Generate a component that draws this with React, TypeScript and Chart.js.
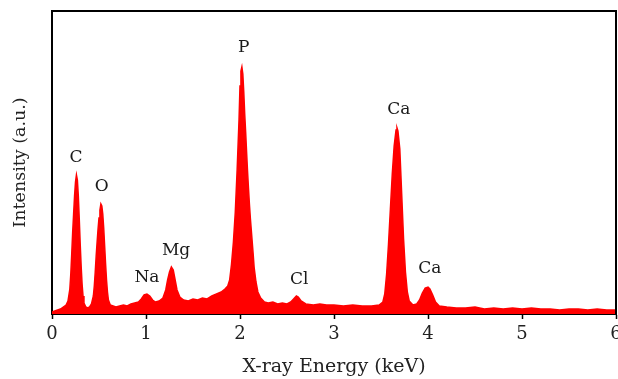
import React, { useEffect, useRef } from "react";
import { Chart, registerables } from "chart.js";

Chart.register(...registerables);

const energy = [
  0.0, 0.03, 0.06, 0.09, 0.12, 0.15, 0.17, 0.19, 0.2, 0.21, 0.22, 0.23, 0.24, 0.25, 0.26, 0.27, 0.28, 0.29, 0.3, 0.31,
  0.32, 0.33, 0.34, 0.36, 0.38, 0.4, 0.42, 0.44, 0.45, 0.46, 0.47, 0.48, 0.49, 0.5, 0.51, 0.52, 0.53, 0.54, 0.55, 0.56,
  0.57, 0.58, 0.59, 0.6, 0.62, 0.65, 0.68, 0.72, 0.76, 0.8, 0.84, 0.88, 0.92, 0.95, 0.98, 1.01, 1.04, 1.07, 1.1, 1.14,
  1.18, 1.21, 1.23, 1.25, 1.27, 1.29, 1.31, 1.33, 1.36, 1.4, 1.45, 1.5, 1.55, 1.6, 1.65, 1.7, 1.75, 1.8, 1.84, 1.87,
  1.89, 1.91, 1.93, 1.95, 1.97, 1.99, 2.0, 2.01, 2.02, 2.03, 2.04, 2.05, 2.06, 2.07, 2.08, 2.09, 2.1, 2.11, 2.12, 2.13,
  2.14, 2.15, 2.17, 2.19, 2.22, 2.26, 2.3, 2.35, 2.4, 2.45, 2.5, 2.54, 2.57, 2.6, 2.62, 2.65, 2.7, 2.78, 2.85, 2.92,
  3.0, 3.1, 3.2, 3.3, 3.4, 3.48, 3.52, 3.54, 3.56, 3.58, 3.6, 3.62, 3.64, 3.66, 3.67, 3.68, 3.7, 3.72, 3.74, 3.76,
  3.78, 3.8, 3.84, 3.88, 3.91, 3.94, 3.97, 4.0, 4.02, 4.05, 4.08, 4.12, 4.2, 4.3, 4.4, 4.5, 4.6, 4.7, 4.8, 4.9,
  5.0, 5.1, 5.2, 5.3, 5.4, 5.5, 5.6, 5.7, 5.8, 5.9, 6.0,
];

const intensity = [
  2, 3, 4, 5, 7, 9, 13, 25, 40, 60, 82, 100, 118, 132, 139, 134, 118, 95, 70, 48,
  30, 18, 11, 7, 6, 7, 10, 18, 28, 42, 58, 72, 85, 96, 104, 110, 108, 100, 86, 68,
  50, 34, 22, 14, 9, 8, 7, 8, 9, 8, 10, 11, 12, 15, 19, 20, 18, 14, 12, 13,
  16, 24, 34, 42, 47, 44, 34, 24, 17, 14, 13, 15, 14, 16, 15, 18, 20, 22, 25, 28,
  34, 50, 72, 102, 145, 195, 228, 243, 247, 240, 222, 200, 182, 162, 143, 126, 110, 96, 84, 72,
  60, 47, 32, 22, 16, 12, 11, 12, 10, 11, 10, 12, 15, 18, 17, 13, 10, 9, 10, 9,
  9, 8, 9, 8, 8, 9, 12, 20, 40, 70, 105, 140, 168, 184, 186, 183, 165, 120, 75, 42,
  22, 13, 9, 10, 14, 21, 26, 27, 25, 19, 12, 8, 7, 6, 6, 7, 5, 6, 5, 6,
  5, 6, 5, 5, 4, 5, 5, 4, 5, 4, 4,
];

const peakLabels = ["C", "O", "Na", "Mg", "P", "Cl", "Ca", "Ca"];
const peakLabelEnergy = [0.255, 0.53, 1.01, 1.32, 2.04, 2.63, 3.69, 4.02];
const peakLabelHeight = [156, 127, 36, 63, 266, 34, 204, 45];

const xTicks = [0, 1, 2, 3, 4, 5, 6];

const FONT = "'DejaVu Serif', 'Liberation Serif', serif";

export default function App() {
  const ref = useRef<HTMLCanvasElement | null>(null);

  useEffect(() => {
    document.body.style.margin = "0";
    const canvas = ref.current;
    if (!canvas) return;

    const framePlugin = {
      id: "frame",
      afterDatasetsDraw(chart: any) {
        const { ctx, chartArea } = chart;
        ctx.save();
        ctx.strokeStyle = "#000";
        ctx.lineWidth = 2;
        ctx.beginPath();
        ctx.moveTo(chartArea.left, chartArea.top);
        ctx.lineTo(chartArea.right, chartArea.top);
        ctx.lineTo(chartArea.right, chartArea.bottom);
        ctx.stroke();
        ctx.restore();
      },
    };

    const labelPlugin = {
      id: "peakLabels",
      afterDatasetsDraw(chart: any) {
        const { ctx } = chart;
        const xs = chart.scales.x;
        const ys = chart.scales.y;
        ctx.save();
        ctx.fillStyle = "#1a1a1a";
        ctx.font = `17px ${FONT}`;
        ctx.textAlign = "center";
        ctx.textBaseline = "middle";
        peakLabels.forEach((t, i) => {
          ctx.fillText(t, xs.getPixelForValue(peakLabelEnergy[i]), ys.getPixelForValue(peakLabelHeight[i]));
        });
        ctx.restore();
      },
    };

    const chart = new Chart(canvas, {
      type: "line",
      data: {
        datasets: [
          {
            data: energy.map((e, i) => ({ x: e, y: intensity[i] })),
            borderColor: "#ff0000",
            backgroundColor: "#ff0000",
            borderWidth: 1.5,
            pointRadius: 0,
            fill: "origin",
            tension: 0,
          },
        ],
      },
      options: {
        animation: false,
        responsive: false,
        maintainAspectRatio: false,
        layout: { padding: { left: 0, right: 2, top: 11, bottom: 0 } },
        plugins: { legend: { display: false }, tooltip: { enabled: false } },
        scales: {
          x: {
            type: "linear",
            min: 0,
            max: 6,
            afterBuildTicks: (axis: any) => {
              axis.ticks = xTicks.map((v) => ({ value: v }));
            },
            afterFit: (axis: any) => {
              axis.height = 65;
              axis.paddingLeft = 0;
              axis.paddingRight = 0;
            },
            ticks: {
              color: "#222",
              font: { family: FONT, size: 18 },
              padding: 5,
              maxRotation: 0,
            },
            grid: {
              display: true,
              drawOnChartArea: false,
              drawTicks: true,
              tickLength: 5,
              tickColor: "#000",
              tickWidth: 1.5,
            },
            border: { display: true, color: "#000", width: 2 },
            title: {
              display: true,
              text: "X-ray Energy (keV)",
              color: "#222",
              font: { family: FONT, size: 19 },
              padding: { top: 0, bottom: 1 },
            },
          },
          y: {
            type: "linear",
            min: 0,
            max: 303,
            afterFit: (axis: any) => {
              axis.width = 52;
            },
            ticks: { display: false },
            grid: { display: false },
            border: { display: true, color: "#000", width: 2 },
            title: {
              display: true,
              text: "Intensity (a.u.)",
              color: "#222",
              font: { family: FONT, size: 17.5 },
              padding: { top: 10, bottom: 0 },
            },
          },
        },
      },
      plugins: [framePlugin, labelPlugin],
    });

    return () => chart.destroy();
  }, []);

  return (
    <div style={{ position: "absolute", left: 0, top: 0, width: 618, height: 379, background: "#fff" }}>
      <canvas ref={ref} width={618} height={379} style={{ display: "block", width: 618, height: 379 }} />
    </div>
  );
}
